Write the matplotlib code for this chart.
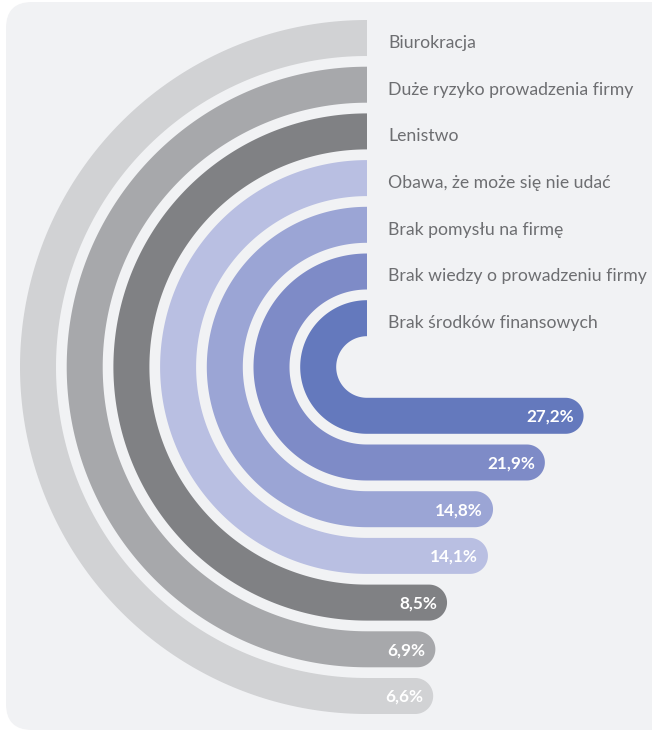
import numpy as np
import matplotlib.pyplot as plt
from matplotlib.patches import Polygon, FancyBboxPatch

labels = ["Biurokracja", "Duże ryzyko prowadzenia firmy", "Lenistwo",
          "Obawa, że może się nie udać", "Brak pomysłu na firmę",
          "Brak wiedzy o prowadzeniu firmy", "Brak środków finansowych"]
values = [6.6, 6.9, 8.5, 14.1, 14.8, 21.9, 27.2]
value_text = ["6,6%", "6,9%", "8,5%", "14,1%", "14,8%", "21,9%", "27,2%"]
colors = ["#d1d2d4", "#a7a8ab", "#808184", "#b9bfe2", "#9ba5d5", "#7e8bc7", "#6479bd"]

W, H = 652, 732
fig = plt.figure(figsize=(W / 100, H / 100), dpi=100)
ax = fig.add_axes([0, 0, 1, 1])
ax.set_xlim(0, W)
ax.set_ylim(H, 0)
ax.axis("off")
fig.patch.set_facecolor("white")

# panel background
ax.add_patch(FancyBboxPatch((6, 2), 700, 728, boxstyle="round,pad=0,rounding_size=26",
                            fc="#f1f2f4", ec="none"))

cx, cy = 367, 367
r_outer = 347
pitch = 46.7
width = 36
px_per_pct = 7.3

for i, (lab, v, txt, c) in enumerate(zip(labels, values, value_text, colors)):
    R = r_outer - i * pitch
    r = R - width
    x_end = cx + v * px_per_pct
    t = np.linspace(0, np.pi, 200)
    outer = np.column_stack([cx - R * np.sin(t), cy - R * np.cos(t)])
    ang = np.linspace(np.pi / 2, -np.pi / 2, 60)
    capc = cy + R - width / 2
    cap = np.column_stack([x_end + width / 2 * np.cos(ang), capc + width / 2 * np.sin(ang)])
    inner = np.column_stack([cx - r * np.sin(t[::-1]), cy - r * np.cos(t[::-1])])
    pts = np.vstack([outer, cap, inner])
    ax.add_patch(Polygon(pts, closed=True, fc=c, ec="none"))

    # category name next to the top end of the ring
    ax.text(cx + 21, cy - R + width / 2 + 5, lab, ha="left", va="center",
            fontsize=12.7, color="#6d6e71", family="Lato")
    # value inside the straight end
    ax.text(x_end + width / 2 - 10, capc + 1, txt, ha="right", va="center",
            fontsize=12.3, color="white", fontweight="bold", family="Lato")

fig.savefig("out.png", dpi=100)
